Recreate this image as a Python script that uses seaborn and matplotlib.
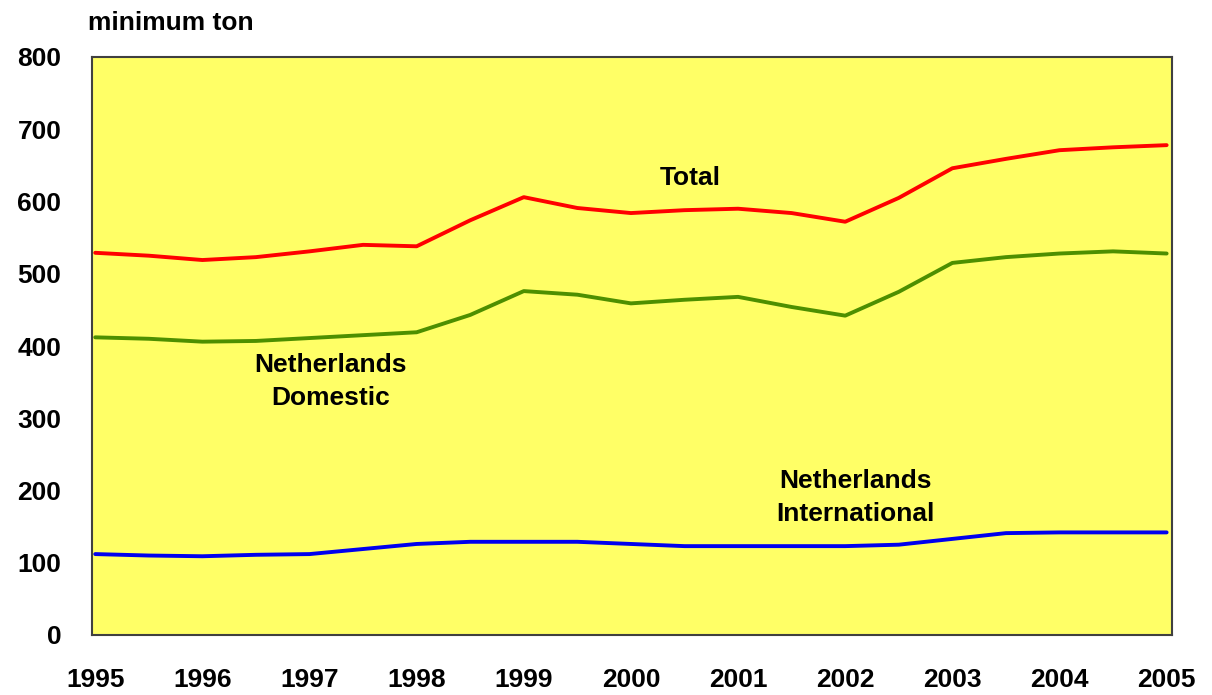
import numpy as np
import pandas as pd
import matplotlib
matplotlib.use("Agg")
import matplotlib.pyplot as plt
import seaborn as sns

# half-year readings, minimum ton
years = [1995.0, 1995.5, 1996.0, 1996.5, 1997.0, 1997.5, 1998.0, 1998.5,
         1999.0, 1999.5, 2000.0, 2000.5, 2001.0, 2001.5, 2002.0, 2002.5,
         2003.0, 2003.5, 2004.0, 2004.5, 2005.0]
total = [529, 525, 519, 523, 531, 540, 538, 574, 606, 591, 584, 588,
         590, 584, 572, 605, 646, 659, 671, 675, 678]
domestic = [412, 410, 406, 407, 411, 415, 419, 443, 476, 471, 459, 464,
            468, 454, 442, 475, 515, 523, 528, 531, 528]
international = [112, 110, 109, 111, 112, 119, 126, 129, 129, 129, 126, 123,
                 123, 123, 123, 125, 133, 141, 142, 142, 142]
tick_years = list(range(1995, 2006))

df = pd.DataFrame({"year": years, "Total": total,
                   "Netherlands Domestic": domestic,
                   "Netherlands International": international})
long = df.melt(id_vars="year", var_name="series", value_name="ton")

sns.set_style("white")
plt.rcParams["font.family"] = ["Liberation Sans", "DejaVu Sans"]
plt.rcParams["font.weight"] = "bold"
plt.rcParams["text.color"] = "black"
plt.rcParams["xtick.color"] = "black"
plt.rcParams["ytick.color"] = "black"

fig = plt.figure(figsize=(12.12, 6.95), dpi=100)
ax = fig.add_axes([92 / 1212, 60 / 695, 1080 / 1212, 578 / 695])
ax.set_facecolor("#FFFF66")

palette = {"Total": "#FF0000", "Netherlands Domestic": "#4D8F00",
           "Netherlands International": "#0000EE"}
sns.lineplot(data=long, x="year", y="ton", hue="series", palette=palette,
             linewidth=2.8, legend=False, ax=ax)

ax.set_xlim(1994.97, 2005.05)
ax.set_ylim(0, 800)
ax.set_yticks(range(0, 801, 100))
ax.set_xticks(tick_years)
ax.set_xticklabels([str(y) for y in tick_years])
ax.tick_params(axis="both", length=0, labelsize=19, labelcolor="black")
ax.tick_params(axis="y", pad=22)
ax.tick_params(axis="x", pad=24)
for lab in ax.get_xticklabels() + ax.get_yticklabels():
    lab.set_fontweight("bold")
ax.set_xlabel("")
ax.set_ylabel("")
for sp in ax.spines.values():
    sp.set_visible(True)
    sp.set_color("#404040")
    sp.set_linewidth(1.5)

fig.text(88 / 1212, 1 - 23 / 695, "minimum ton", fontsize=19, fontweight="bold",
         ha="left", va="center", color="black")

ax.text(2000.55, 632, "Total", fontsize=19, fontweight="bold",
        ha="center", va="center", color="black")
ax.text(1997.2, 351, "Netherlands\nDomestic", fontsize=19, fontweight="bold",
        ha="center", va="center", linespacing=1.5, color="black")
ax.text(2002.1, 190, "Netherlands\nInternational", fontsize=19,
        fontweight="bold", ha="center", va="center", linespacing=1.5,
        color="black")

fig.savefig("out.png", dpi=100)
